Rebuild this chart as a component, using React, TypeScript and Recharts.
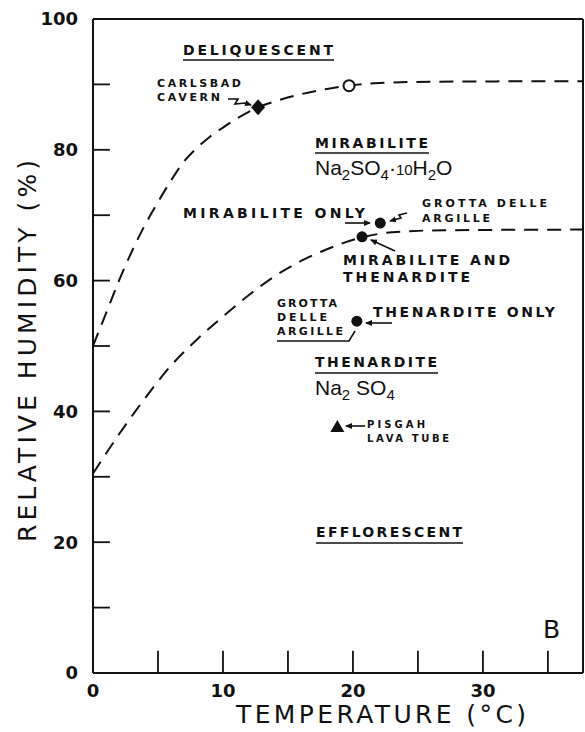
import * as React from "react"
import {
    ComposedChart,
    Line,
    ReferenceLine,
    Scatter,
    XAxis,
    YAxis,
} from "recharts"

// temperature (°C) / relative humidity (%) along the two dashed boundaries
const upperT = [0, 1, 2, 3, 4, 5, 6, 7, 8, 9, 10, 11, 12.7, 14, 16, 18, 19.7, 22, 26, 37.7]
const upperRH = [50, 55, 60, 64.5, 68.5, 72, 75.3, 78.2, 80.3, 82, 83.4, 84.7, 86.5, 87.4, 88.5, 89.3, 89.8, 90.2, 90.4, 90.5]
const lowerT = [0, 2, 4, 6, 8, 10, 12, 14, 16, 18, 20.7, 23, 27, 37.7]
const lowerRH = [30.5, 36.5, 42, 47, 51, 54.5, 57.8, 60.7, 63, 64.8, 66.6, 67.4, 67.7, 67.8]

// observed sites
const carlsbad = [{ x: 12.7, y: 86.5 }]
const openPoint = [{ x: 19.7, y: 89.8 }]
const grottaPoints = [
    { x: 22.1, y: 68.8 },
    { x: 20.7, y: 66.7 },
    { x: 20.3, y: 53.8 },
]
const pisgah = [{ x: 18.8, y: 37.6 }]

const xTicks = [0, 10, 20, 30]
const yTicks = [0, 20, 40, 60, 80, 100]
const xMinor = [5, 10, 15, 20, 25, 30, 35]
const yMinor = [10, 20, 30, 40, 50, 60, 70, 80, 90]
const X_MAX = 37.7

const INK = "#111"
const LABEL_FONT = "'DejaVu Sans', sans-serif"
const FORMULA_FONT = "'Liberation Sans', Arial, sans-serif"

const upper = upperT.map((x, i) => ({ x, y: upperRH[i] }))
const lower = lowerT.map((x, i) => ({ x, y: lowerRH[i] }))

const Diamond = (p: any) => (
    <path d={`M${p.cx},${p.cy - 8} L${p.cx + 7},${p.cy} L${p.cx},${p.cy + 8} L${p.cx - 7},${p.cy} Z`} fill={INK} />
)
const OpenDot = (p: any) => <circle cx={p.cx} cy={p.cy} r={5.5} fill="#fff" stroke={INK} strokeWidth={2} />
const Dot = (p: any) => <circle cx={p.cx} cy={p.cy} r={5.5} fill={INK} />
const Tri = (p: any) => (
    <path d={`M${p.cx},${p.cy - 7} L${p.cx + 7},${p.cy + 5} L${p.cx - 7},${p.cy + 5} Z`} fill={INK} />
)

function Lbl({ x, y, w, size = 11, bold = true, children }: any) {
    return (
        <text
            x={x}
            y={y}
            fontSize={size}
            fontWeight={bold ? 700 : 400}
            fontFamily={LABEL_FONT}
            fill={INK}
            textLength={w}
            lengthAdjust="spacing"
        >
            {children}
        </text>
    )
}

function Overlay() {
    const arrow = { stroke: INK, strokeWidth: 1.6, fill: "none", markerEnd: "url(#ah)" }
    return (
        <svg
            width={585}
            height={732}
            style={{ position: "absolute", left: 0, top: 0, pointerEvents: "none" }}
        >
            <defs>
                <marker id="ah" markerWidth="8" markerHeight="8" refX="6" refY="4" orient="auto" markerUnits="userSpaceOnUse">
                    <path d="M0,1 L7,4 L0,7 Z" fill={INK} />
                </marker>
            </defs>

            <Lbl x={183} y={55} w={150} size={14}>DELIQUESCENT</Lbl>
            <line x1={183} x2={334} y1={60} y2={60} stroke={INK} strokeWidth={1.6} />

            <Lbl x={157} y={87} w={84}>CARLSBAD</Lbl>
            <Lbl x={157} y={101} w={63}>CAVERN</Lbl>
            <path d="M228,99 L238,99 L235,104 L245,103 L251,105" {...arrow} />

            <Lbl x={315} y={148} w={113} size={14}>MIRABILITE</Lbl>
            <line x1={315} x2={429} y1={153} y2={153} stroke={INK} strokeWidth={1.6} />
            <text x={315} y={175} fontSize={21} fontFamily={FORMULA_FONT} fill={INK}>
                Na<tspan fontSize={15} dy={5}>2</tspan>
                <tspan dy={-5}>SO</tspan>
                <tspan fontSize={15} dy={5}>4</tspan>
                <tspan dy={-5}>·</tspan>
                <tspan fontSize={15}>10</tspan>
                <tspan>H</tspan>
                <tspan fontSize={15} dy={5}>2</tspan>
                <tspan dy={-5}>O</tspan>
            </text>

            <Lbl x={183} y={218} w={182} size={14}>MIRABILITE ONLY</Lbl>
            <path d="M345,223 L370,223" {...arrow} />

            <Lbl x={422} y={207} w={125}>GROTTA DELLE</Lbl>
            <Lbl x={422} y={222} w={68}>ARGILLE</Lbl>
            <path d="M407,213 L399,215 L401,218 L390,221" {...arrow} />

            <Lbl x={343} y={265} w={167} size={14}>MIRABILITE  AND</Lbl>
            <Lbl x={343} y={282} w={127} size={14}>THENARDITE</Lbl>
            <path d="M395,251 L371,240" {...arrow} />

            <Lbl x={277} y={307} w={60}>GROTTA</Lbl>
            <Lbl x={277} y={321} w={50}>DELLE</Lbl>
            <Lbl x={277} y={335} w={66}>ARGILLE</Lbl>
            <path d="M277,341 L349,341 L355,331" stroke={INK} strokeWidth={1.6} fill="none" />

            <Lbl x={373} y={317} w={182} size={14}>THENARDITE  ONLY</Lbl>
            <path d="M392,323 L366,323" {...arrow} />

            <Lbl x={315} y={367} w={122} size={14}>THENARDITE</Lbl>
            <line x1={315} x2={438} y1={373} y2={373} stroke={INK} strokeWidth={1.6} />
            <text x={315} y={395} fontSize={21} fontFamily={FORMULA_FONT} fill={INK}>
                Na<tspan fontSize={15} dy={5}>2</tspan>
                <tspan dy={-5}> SO</tspan>
                <tspan fontSize={15} dy={5}>4</tspan>
            </text>

            <Lbl x={367} y={428} w={58} size={10}>PISGAH</Lbl>
            <Lbl x={367} y={442} w={82} size={10}>LAVA  TUBE</Lbl>
            <path d="M365,426 L346,426" {...arrow} />

            <Lbl x={316} y={537} w={146} size={14}>EFFLORESCENT</Lbl>
            <line x1={316} x2={463} y1={543} y2={543} stroke={INK} strokeWidth={1.6} />

            <text x={543} y={638} fontSize={25} fontFamily={LABEL_FONT} fill={INK}>B</text>

            <text
                x={381}
                y={723}
                textAnchor="middle"
                fontSize={25}
                fontFamily={LABEL_FONT}
                fill={INK}
                textLength={290}
                lengthAdjust="spacing"
            >
                TEMPERATURE (°C)
            </text>
            <text
                x={0}
                y={0}
                transform="translate(36,351) rotate(-90)"
                textAnchor="middle"
                fontSize={25}
                fontFamily={LABEL_FONT}
                fill={INK}
                textLength={382}
                lengthAdjust="spacing"
            >
                RELATIVE  HUMIDITY  (%)
            </text>
        </svg>
    )
}

export default function App() {
    const tick = { fill: INK, fontSize: 18, fontFamily: LABEL_FONT, fontWeight: 600 }
    return (
        <div style={{ position: "absolute", left: 0, top: 0, width: 585, height: 732, background: "#fff" }}>
            <ComposedChart width={585} height={732} margin={{ top: 19, right: 2, left: 33, bottom: 29 }}>
                <XAxis
                    type="number"
                    dataKey="x"
                    domain={[0, X_MAX]}
                    ticks={xTicks}
                    allowDataOverflow
                    tickLine={false}
                    tickMargin={5}
                    axisLine={{ stroke: INK, strokeWidth: 2 }}
                    tick={tick}
                    height={30}
                />
                <YAxis
                    type="number"
                    dataKey="y"
                    domain={[0, 100]}
                    ticks={yTicks}
                    allowDataOverflow
                    tickLine={false}
                    tickMargin={9}
                    axisLine={{ stroke: INK, strokeWidth: 2 }}
                    tick={tick}
                    width={60}
                />
                <ReferenceLine y={100} stroke={INK} strokeWidth={2} />
                <ReferenceLine x={X_MAX} stroke={INK} strokeWidth={2} />
                {xMinor.map((t) => (
                    <ReferenceLine
                        key={"xt" + t}
                        segment={[{ x: t, y: 0 }, { x: t, y: 3.4 }]}
                        stroke={INK}
                        strokeWidth={1.8}
                    />
                ))}
                {yMinor.map((t) => (
                    <ReferenceLine
                        key={"yt" + t}
                        segment={[{ x: 0, y: t }, { x: 1.3, y: t }]}
                        stroke={INK}
                        strokeWidth={1.8}
                    />
                ))}
                <Line
                    data={upper}
                    dataKey="y"
                    type="monotone"
                    stroke={INK}
                    strokeWidth={2}
                    strokeDasharray="14 9"
                    dot={false}
                    isAnimationActive={false}
                />
                <Line
                    data={lower}
                    dataKey="y"
                    type="monotone"
                    stroke={INK}
                    strokeWidth={2}
                    strokeDasharray="14 9"
                    dot={false}
                    isAnimationActive={false}
                />
                <Scatter data={carlsbad} dataKey="y" shape={Diamond} isAnimationActive={false} />
                <Scatter data={openPoint} dataKey="y" shape={OpenDot} isAnimationActive={false} />
                <Scatter data={grottaPoints} dataKey="y" shape={Dot} isAnimationActive={false} />
                <Scatter data={pisgah} dataKey="y" shape={Tri} isAnimationActive={false} />
            </ComposedChart>
            <Overlay />
        </div>
    )
}
